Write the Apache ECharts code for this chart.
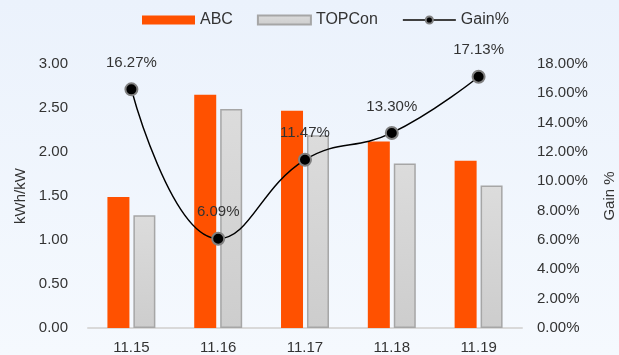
<!DOCTYPE html>
<html>
<head>
<meta charset="utf-8">
<script src="https://cdn.jsdelivr.net/npm/echarts@6/dist/echarts.min.js"></script>
<style>
  html, body { margin: 0; padding: 0; }
  #chart { width: 619px; height: 355px; }
</style>
</head>
<body>
<div id="chart"></div>
<script>
// Daily yield (kWh/kW) of ABC vs TOPCon modules, with relative gain
const categories = ['11.15', '11.16', '11.17', '11.18', '11.19'];
const abcYield = [1.49, 2.65, 2.47, 2.12, 1.90];
const topconYield = [1.28, 2.49, 2.19, 1.87, 1.62];
const gainPct = [16.27, 6.09, 11.47, 13.30, 17.13];

const font = 'Liberation Sans, Arial, sans-serif';
const textColor = '#333333';

const chart = echarts.init(document.getElementById('chart'));
chart.setOption({
  animation: false,
  backgroundColor: {
    type: 'linear', x: 0, y: 0, x2: 0, y2: 1,
    colorStops: [
      { offset: 0, color: '#ebf2fc' },
      { offset: 1, color: '#f5f9fe' }
    ]
  },
  textStyle: { fontFamily: font },
  legend: {
    top: 7,
    left: 137,
    itemWidth: 53,
    itemHeight: 9,
    itemGap: 24,
    textStyle: { fontSize: 16, color: textColor, fontFamily: font },
    data: [
      { name: 'ABC', icon: 'rect' },
      { name: 'TOPCon', icon: 'rect' },
      { name: 'Gain%', lineStyle: { color: '#404040' } }
    ]
  },
  grid: { left: 88, right: 97, top: 64, bottom: 27, outerBoundsMode: 'none', containLabel: false },
  xAxis: {
    type: 'category',
    data: categories,
    axisTick: { show: false },
    axisLine: { lineStyle: { color: '#d9d9d9', width: 2 } },
    axisLabel: { fontSize: 15, color: textColor, margin: 12, fontFamily: font }
  },
  yAxis: [
    {
      type: 'value',
      min: 0, max: 3, interval: 0.5,
      name: 'kWh/kW',
      nameLocation: 'middle',
      nameRotate: 90,
      nameGap: 59,
      nameTextStyle: { fontSize: 15, color: textColor, fontFamily: font },
      splitLine: { show: false },
      axisLine: { show: false },
      axisTick: { show: false },
      axisLabel: {
        fontSize: 15, color: textColor, margin: 20, fontFamily: font,
        formatter: v => v.toFixed(2)
      }
    },
    {
      type: 'value',
      min: 0, max: 18, interval: 2,
      name: 'Gain %',
      nameLocation: 'middle',
      nameRotate: 90,
      nameGap: 80,
      nameTextStyle: { fontSize: 15, color: textColor, fontFamily: font },
      splitLine: { show: false },
      axisLine: { show: false },
      axisTick: { show: false },
      axisLabel: {
        fontSize: 15, color: textColor, margin: 15, fontFamily: font,
        formatter: v => v.toFixed(2) + '%'
      }
    }
  ],
  series: [
    {
      name: 'ABC',
      type: 'bar',
      data: abcYield,
      barWidth: 22,
      barGap: '18%',
      itemStyle: { color: '#ff5100' }
    },
    {
      name: 'TOPCon',
      type: 'bar',
      data: topconYield,
      barWidth: 22,
      itemStyle: {
        color: {
          type: 'linear', x: 0, y: 0, x2: 0, y2: 1,
          colorStops: [
            { offset: 0, color: '#dcdcdc' },
            { offset: 1, color: '#cdcdcd' }
          ]
        },
        borderColor: '#a6a6a6',
        borderWidth: 1.5
      }
    },
    {
      name: 'Gain%',
      type: 'line',
      yAxisIndex: 1,
      data: gainPct,
      smooth: 0.45,
      symbol: 'circle',
      symbolSize: 12,
      lineStyle: { color: '#000000', width: 1.5 },
      itemStyle: { color: '#000000', borderColor: '#808080', borderWidth: 2 },
      label: {
        show: true,
        position: 'top',
        distance: 12,
        fontSize: 15,
        color: textColor,
        fontFamily: font,
        formatter: p => p.value.toFixed(2) + '%'
      },
      z: 5
    }
  ]
});
</script>
</body>
</html>
